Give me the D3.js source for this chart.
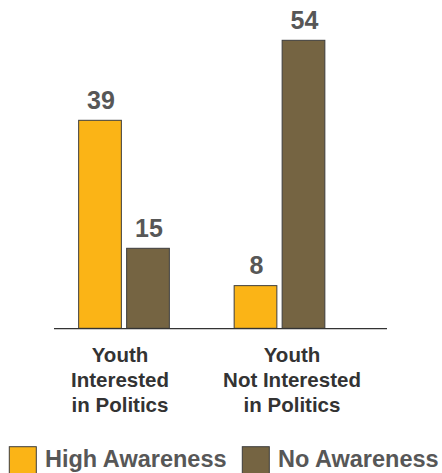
<!DOCTYPE html>
<html>
<head>
<meta charset="utf-8">
<script src="https://cdn.jsdelivr.net/npm/d3@7"></script>
<style>
  html, body { margin: 0; padding: 0; background: #fff; }
  svg { display: block; font-family: "Liberation Sans", Arial, Helvetica, sans-serif; }
</style>
</head>
<body>
<svg id="chart" width="442" height="473"></svg>
<script>
const categories = ["Youth\nInterested\nin Politics", "Youth\nNot Interested\nin Politics"];
const seriesNames = ["High Awareness", "No Awareness"];
const highAwareness = [39, 8];
const noAwareness = [15, 54];
const seriesColors = ["#FBB416", "#756442"];

const seriesValues = [highAwareness, noAwareness];
const data = categories.map((c, i) => ({
  category: c,
  values: seriesNames.map((s, j) => ({ series: s, value: seriesValues[j][i], color: seriesColors[j] }))
}));

const svg = d3.select("#chart");

const x = d3.scaleBand().domain(categories).range([46.25, 357.25]).padding(0);
const xInner = d3.scaleBand().domain(seriesNames).range([-45.35, 45.35]).paddingInner(0.11).paddingOuter(0);
const y = d3.scaleLinear().domain([0, 54]).range([328.3, 40.3]);
const xLabel = d3.scalePoint().domain(categories).range([120, 292]);

const groups = svg.selectAll("g.grp").data(data).join("g")
  .attr("class", "grp")
  .attr("transform", d => `translate(${x(d.category) + x.bandwidth() / 2},0)`);

groups.selectAll("rect").data(d => d.values).join("rect")
  .attr("x", d => xInner(d.series))
  .attr("width", xInner.bandwidth())
  .attr("y", d => y(d.value))
  .attr("height", d => y(0) - y(d.value))
  .attr("fill", d => d.color)
  .attr("stroke", "#3d3d3d")
  .attr("stroke-width", 1);

groups.selectAll("text.val").data(d => d.values).join("text")
  .attr("class", "val")
  .attr("x", d => xInner(d.series) + xInner.bandwidth() / 2 + 1)
  .attr("y", d => y(d.value) - 11.8)
  .attr("text-anchor", "middle")
  .attr("font-size", "25px")
  .attr("font-weight", "bold")
  .attr("fill", "#575757")
  .text(d => d.value);

// baseline
svg.append("line")
  .attr("x1", 54).attr("x2", 387)
  .attr("y1", y(0) + 0.3).attr("y2", y(0) + 0.3)
  .attr("stroke", "#333").attr("stroke-width", 1.3);

// category labels
svg.selectAll("text.cat").data(categories).join("text")
  .attr("class", "cat")
  .attr("x", d => xLabel(d))
  .attr("y", 361.7)
  .attr("text-anchor", "middle")
  .attr("font-size", "20.5px")
  .attr("font-weight", "bold")
  .attr("fill", "#333")
  .selectAll("tspan").data(d => d.split("\n")).join("tspan")
  .attr("x", function() { return d3.select(this.parentNode).attr("x"); })
  .attr("dy", (d, i) => i === 0 ? 0 : 25.3)
  .text(d => d);

// legend
const legendX = [9.3, 242.3];
const legend = svg.selectAll("g.leg").data(seriesNames).join("g")
  .attr("class", "leg")
  .attr("transform", (d, i) => `translate(${legendX[i]},446.7)`);
legend.append("rect")
  .attr("width", 27).attr("height", 27)
  .attr("fill", (d, i) => seriesColors[i])
  .attr("stroke", "#3d3d3d").attr("stroke-width", 1);
legend.append("text")
  .attr("x", 35.7).attr("y", 20.6)
  .attr("font-size", "23.5px")
  .attr("font-weight", "bold")
  .attr("fill", "#575757")
  .text(d => d);
</script>
</body>
</html>
